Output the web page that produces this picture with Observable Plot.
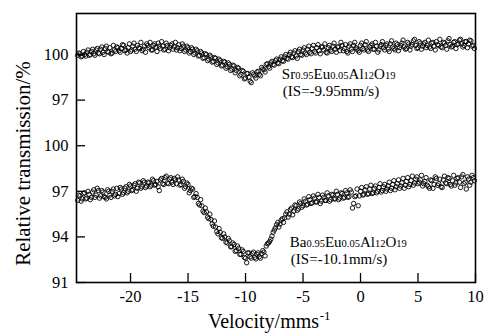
<!DOCTYPE html>
<html><head><meta charset="utf-8">
<script src="https://cdn.jsdelivr.net/npm/d3@7"></script>
<script src="https://cdn.jsdelivr.net/npm/@observablehq/plot@0.6"></script>
<style>body{margin:0;background:#fff}</style>
</head><body><div id="chart"></div>
<script>
// Velocity channels (mm/s), even set
const velocity = [-24.6,-24.4,-24.2,-24,-23.8,-23.6,-23.4,-23.2,-23,-22.8,-22.6,-22.4,-22.2,-22,-21.8,-21.6,-21.4,-21.2,-21,-20.8,-20.6,-20.4,-20.2,-20,-19.8,-19.6,-19.4,-19.2,-19,-18.8,-18.6,-18.4,-18.2,-18,-17.8,-17.6,-17.4,-17.2,-17,-16.8,-16.6,-16.4,-16.2,-16,-15.8,-15.6,-15.4,-15.2,-15,-14.8,-14.6,-14.4,-14.2,-14,-13.8,-13.6,-13.4,-13.2,-13,-12.8,-12.6,-12.4,-12.2,-12,-11.8,-11.6,-11.4,-11.2,-11,-10.8,-10.6,-10.4,-10.2,-10,-9.8,-9.6,-9.4,-9.2,-9,-8.8,-8.6,-8.4,-8.2,-8,-7.8,-7.6,-7.4,-7.2,-7,-6.8,-6.6,-6.4,-6.2,-6,-5.8,-5.6,-5.4,-5.2,-5,-4.8,-4.6,-4.4,-4.2,-4,-3.8,-3.6,-3.4,-3.2,-3,-2.8,-2.6,-2.4,-2.2,-2,-1.8,-1.6,-1.4,-1.2,-1,-0.8,-0.6,-0.4,-0.2,0,0.2,0.4,0.6,0.8,1,1.2,1.4,1.6,1.8,2,2.2,2.4,2.6,2.8,3,3.2,3.4,3.6,3.8,4,4.2,4.4,4.6,4.8,5,5.2,5.4,5.6,5.8,6,6.2,6.4,6.6,6.8,7,7.2,7.4,7.6,7.8,8,8.2,8.4,8.6,8.8,9,9.2,9.4,9.6,9.8];
// Velocity channels (mm/s), odd set
const velocity2 = [-24.5,-24.3,-24.1,-23.9,-23.7,-23.5,-23.3,-23.1,-22.9,-22.7,-22.5,-22.3,-22.1,-21.9,-21.7,-21.5,-21.3,-21.1,-20.9,-20.7,-20.5,-20.3,-20.1,-19.9,-19.7,-19.5,-19.3,-19.1,-18.9,-18.7,-18.5,-18.3,-18.1,-17.9,-17.7,-17.5,-17.3,-17.1,-16.9,-16.7,-16.5,-16.3,-16.1,-15.9,-15.7,-15.5,-15.3,-15.1,-14.9,-14.7,-14.5,-14.3,-14.1,-13.9,-13.7,-13.5,-13.3,-13.1,-12.9,-12.7,-12.5,-12.3,-12.1,-11.9,-11.7,-11.5,-11.3,-11.1,-10.9,-10.7,-10.5,-10.3,-10.1,-9.9,-9.7,-9.5,-9.3,-9.1,-8.9,-8.7,-8.5,-8.3,-8.1,-7.9,-7.7,-7.5,-7.3,-7.1,-6.9,-6.7,-6.5,-6.3,-6.1,-5.9,-5.7,-5.5,-5.3,-5.1,-4.9,-4.7,-4.5,-4.3,-4.1,-3.9,-3.7,-3.5,-3.3,-3.1,-2.9,-2.7,-2.5,-2.3,-2.1,-1.9,-1.7,-1.5,-1.3,-1.1,-0.9,-0.7,-0.5,-0.3,-0.1,0.1,0.3,0.5,0.7,0.9,1.1,1.3,1.5,1.7,1.9,2.1,2.3,2.5,2.7,2.9,3.1,3.3,3.5,3.7,3.9,4.1,4.3,4.5,4.7,4.9,5.1,5.3,5.5,5.7,5.9,6.1,6.3,6.5,6.7,6.9,7.1,7.3,7.5,7.7,7.9,8.1,8.3,8.5,8.7,8.9,9.1,9.3,9.5,9.7,9.9];

// Relative transmission (%) — Sr0.95Eu0.05Al12O19
const srTransmission = [
99.95,100.05,99.9,100.0,100.15,99.95,100.2,100.05,100.3,100.1,
100.35,100.15,100.4,100.2,100.45,100.1,100.3,100.5,100.25,100.4,
100.6,100.3,100.45,100.2,100.55,100.35,100.6,100.4,100.25,100.55,
100.7,100.45,100.3,100.6,100.5,100.75,100.4,100.55,100.35,100.6,
100.45,100.7,100.5,100.3,100.65,100.4,100.55,100.3,100.45,100.2,
100.35,100.1,100.25,99.95,100.1,99.8,100.0,99.7,99.85,99.55,
99.75,99.45,99.6,99.3,99.5,99.2,99.35,99.05,99.25,98.95,
99.1,98.7,98.9,98.45,98.75,98.25,98.8,98.6,98.85,98.7,
99.15,99.0,99.35,99.2,99.45,99.35,99.6,99.45,99.7,99.6,
99.85,99.75,100.0,99.85,100.1,99.9,100.2,100.0,100.3,100.1,
100.35,100.15,100.4,100.2,100.45,100.25,100.5,100.3,100.15,100.45,
100.3,100.55,100.35,100.5,100.25,100.6,100.4,100.2,100.55,100.35,
100.6,100.45,100.25,100.6,100.4,100.65,100.3,100.5,100.7,100.35,
100.55,100.3,100.65,100.45,100.6,100.35,100.7,100.5,100.3,100.65,
100.45,100.75,100.5,100.4,100.7,100.55,100.9,100.6,100.45,100.75,
100.55,100.8,100.6,100.5,100.75,100.55,100.85,100.6,100.5,100.8,
100.6,100.9,100.65,100.55,100.85,100.65,100.95,100.7,100.6,100.85,
100.7,100.9,100.6];
const srTransmission2 = [
100.1,99.85,100.2,99.9,100.3,100.0,100.35,99.95,100.4,100.05,
100.5,100.0,100.55,100.15,100.05,100.6,100.2,100.45,100.15,100.65,
100.25,100.1,100.7,100.3,100.75,100.2,100.45,100.8,100.35,100.15,
100.6,100.8,100.3,100.7,100.2,100.55,100.85,100.3,100.75,100.25,
100.6,100.35,100.8,100.45,100.25,100.7,100.2,100.55,100.1,100.45,
100.0,100.35,99.9,100.2,99.75,100.05,99.6,99.95,99.5,99.8,
99.35,99.7,99.25,99.55,99.1,99.45,98.95,99.3,98.8,99.15,
98.6,98.95,98.4,98.75,98.5,98.15,98.7,98.45,98.9,98.6,
99.05,98.85,99.4,99.1,99.55,99.3,99.7,99.4,99.85,99.55,
100.0,99.7,100.15,99.8,100.25,99.75,100.35,99.95,100.45,100.0,
100.55,100.05,100.6,100.1,100.65,100.05,100.5,100.7,100.1,100.6,
100.2,100.75,100.15,100.5,100.8,100.25,100.65,100.1,100.7,100.2,
100.8,100.35,100.15,100.75,100.3,100.85,100.2,100.6,100.35,100.8,
100.15,100.55,100.85,100.3,100.7,100.2,100.9,100.4,100.75,100.25,
100.6,100.95,100.35,100.8,100.3,100.65,101.0,100.4,100.85,100.35,
100.7,100.45,100.95,100.4,100.8,100.3,100.65,101.0,100.45,100.75,
100.35,101.05,100.5,100.8,100.4,100.7,101.0,100.5,100.85,100.45,
100.95,100.55,100.4];

// Relative transmission (%) — Ba0.95Eu0.05Al12O19
const baTransmission = [
96.4,96.7,96.5,96.9,96.55,96.8,96.6,97.1,96.75,97.05,
96.7,96.95,96.6,97.1,96.75,97.0,96.7,97.2,96.85,97.15,
96.9,97.3,97.0,97.35,97.1,97.5,97.2,97.55,97.3,97.6,
97.35,97.55,97.4,97.7,97.45,97.3,97.75,97.5,97.9,97.55,
97.8,97.6,97.85,97.5,97.75,97.45,97.65,97.3,97.45,97.05,
97.15,96.65,96.6,96.1,96.05,95.6,95.65,95.2,95.15,94.7,
94.65,94.2,94.3,93.9,94.0,93.6,93.75,93.35,93.5,93.1,
93.25,92.85,93.05,92.6,92.95,92.7,92.9,92.65,92.85,92.7,
92.9,93.0,93.4,93.6,93.85,94.3,94.6,94.95,94.85,95.2,
95.25,95.65,95.5,95.9,95.7,96.05,95.85,96.2,96.05,96.35,
96.15,96.45,96.25,96.55,96.3,96.6,96.35,96.6,96.4,96.7,
96.45,96.75,96.5,96.8,96.55,96.85,96.6,96.9,96.65,96.95,
96.2,96.7,96.05,97.0,96.75,97.1,96.8,97.15,96.85,97.2,
96.9,97.25,96.95,97.3,97.0,97.35,97.05,97.45,97.1,97.5,
97.2,97.55,97.2,97.65,97.3,97.7,97.4,97.8,97.5,97.75,
97.35,97.65,97.4,97.2,97.7,97.45,97.85,97.5,97.3,97.75,
97.55,97.9,97.45,97.7,97.4,97.85,97.6,97.95,97.5,97.15,
97.8,97.6,97.9];
const baTransmission2 = [
96.75,96.35,96.85,96.5,97.0,96.45,96.95,96.6,97.2,96.55,
97.05,96.65,96.5,97.0,96.6,97.15,96.8,96.65,97.25,96.8,
97.2,96.9,97.45,97.05,97.4,97.0,97.6,97.2,97.7,97.25,
97.6,97.3,97.8,97.4,97.65,97.05,97.85,97.45,98.0,97.5,
97.9,97.45,97.75,97.95,97.4,97.8,97.2,97.55,96.9,97.2,
96.6,96.85,96.2,96.45,95.7,95.9,95.3,95.5,94.85,95.05,
94.35,94.55,93.95,94.2,93.65,93.9,93.35,93.6,93.05,93.4,
92.85,93.15,92.65,92.3,92.95,92.6,93.0,92.55,92.95,92.6,
93.1,92.75,93.55,93.7,94.05,94.45,94.8,94.65,95.1,94.95,
95.5,95.3,95.8,95.45,96.1,95.75,96.3,95.95,96.5,96.1,
96.65,96.2,96.7,96.3,96.8,96.2,96.75,96.4,96.9,96.35,
96.8,96.5,97.0,96.45,96.9,96.55,97.05,96.6,97.1,95.9,
96.65,97.15,96.7,97.25,96.8,97.3,96.85,97.4,96.9,97.35,
97.0,97.5,97.05,97.45,97.15,97.6,97.2,97.7,97.3,97.75,
97.35,97.85,97.4,97.9,97.45,98.0,97.55,97.95,97.6,98.05,
97.5,97.9,97.3,97.75,97.2,97.95,97.4,97.8,97.25,98.0,
97.5,97.85,97.35,98.05,97.55,97.9,97.25,98.1,97.6,97.95,
97.4,98.05,97.7];

const srVerticalShift = 6; // the Sr spectrum is stacked 6 % above the Ba spectrum
const xTicks = [-20, -15, -10, -5, 0, 5, 10];
const yTickValues = [91, 94, 97, 100, 103, 106];
const yTickLabels = ["91", "94", "97", "100", "97", "100"];
const srFormula = [["Sr", false], ["0.95", true], ["Eu", false], ["0.05", true], ["Al", false], ["12", true], ["O", false], ["19", true]];
const baFormula = [["Ba", false], ["0.95", true], ["Eu", false], ["0.05", true], ["Al", false], ["12", true], ["O", false], ["19", true]];
const srShift = "(IS=-9.95mm/s)";
const baShift = "(IS=-10.1mm/s)";
const xTitle = "Velocity/mms";
const xTitleSup = "-1";
const yTitle = "Relative transmission/%";

const rows = [];
function addSeries(vs, ts, shift) {
  const n = Math.min(vs.length, ts.length);
  for (let i = 0; i < n; i++) rows.push({v: vs[i], t: ts[i] + shift});
}
addSeries(velocity, srTransmission, srVerticalShift);
addSeries(velocity2, srTransmission2, srVerticalShift);
addSeries(velocity, baTransmission, 0);
addSeries(velocity2, baTransmission2, 0);
const labelMap = new Map(yTickValues.map((d, i) => [d, yTickLabels[i]]));

const W = 484, H = 334;
const mL = 76, mR = 9, mT = 13, mB = 52;
const font = "'Liberation Serif', 'Times New Roman', serif";

const plot = Plot.plot({
  width: W, height: H,
  marginLeft: mL, marginRight: mR, marginTop: mT, marginBottom: mB,
  style: {fontFamily: font, background: "#fff", color: "#000"},
  x: {domain: [-24.7, 10], label: null},
  y: {domain: [91, 108.7], label: null},
  marks: [
    Plot.dot(rows, {x: "v", y: "t", r: 2.2, stroke: "#000", strokeWidth: 0.9, fill: "none"}),
    Plot.tickX(xTicks, {x: d => d, stroke: "#000", strokeWidth: 1.3, insetTop: H - mT - mB - 9}),
    Plot.tickY(yTickValues, {y: d => d, stroke: "#000", strokeWidth: 1.3, insetRight: W - mL - mR - 9}),
    Plot.axisX({ticks: xTicks, tickSize: 0, tickPadding: 8, tickFormat: d => String(d), fontSize: 16.5, label: null}),
    Plot.axisY({ticks: yTickValues, tickSize: 0, tickPadding: 8, tickFormat: d => labelMap.get(d), fontSize: 16.5, label: null}),
    Plot.frame({stroke: "#000", strokeWidth: 1.6})
  ]
});
document.getElementById("chart").appendChild(plot);

const sx = plot.scale("x"), sy = plot.scale("y");
const svg = d3.select(plot);

// Each formula segment is its own text element, laid end to end by measured width
function formula(parts, vx, vy, line2, dy2) {
  const g = svg.append("g").attr("font-family", font).attr("fill", "#000").attr("text-anchor", "start");
  let x = sx.apply(vx);
  const y = sy.apply(vy);
  parts.forEach(([s, small]) => {
    const t = g.append("text").attr("x", x).attr("y", y).attr("font-size", small ? 10.5 : 15).text(s);
    x += t.node().getComputedTextLength();
  });
  g.append("text").attr("x", sx.apply(vx) + 1).attr("y", y + dy2).attr("font-size", 15).text(line2);
}
formula(srFormula, -6.8, 104.36, srShift, 17);
formula(baFormula, -6.1, 93.3, baShift, 17);

const xg = svg.append("g").attr("font-family", font).attr("fill", "#000");
const xt = xg.append("text").attr("x", (mL + W - mR) / 2 - 12).attr("y", H - 6)
  .attr("text-anchor", "middle").attr("font-size", 20).text(xTitle);
const xtBox = xt.node().getBBox();
xg.append("text").attr("x", xtBox.x + xtBox.width + 0.5).attr("y", H - 14)
  .attr("text-anchor", "start").attr("font-size", 13).text(xTitleSup);

svg.append("text").attr("transform", `translate(30,${(mT + H - mB) / 2 + 16}) rotate(-90)`)
  .attr("text-anchor", "middle").attr("font-family", font).attr("font-size", 21).attr("fill", "#000")
  .text(yTitle);
</script>
</body></html>
